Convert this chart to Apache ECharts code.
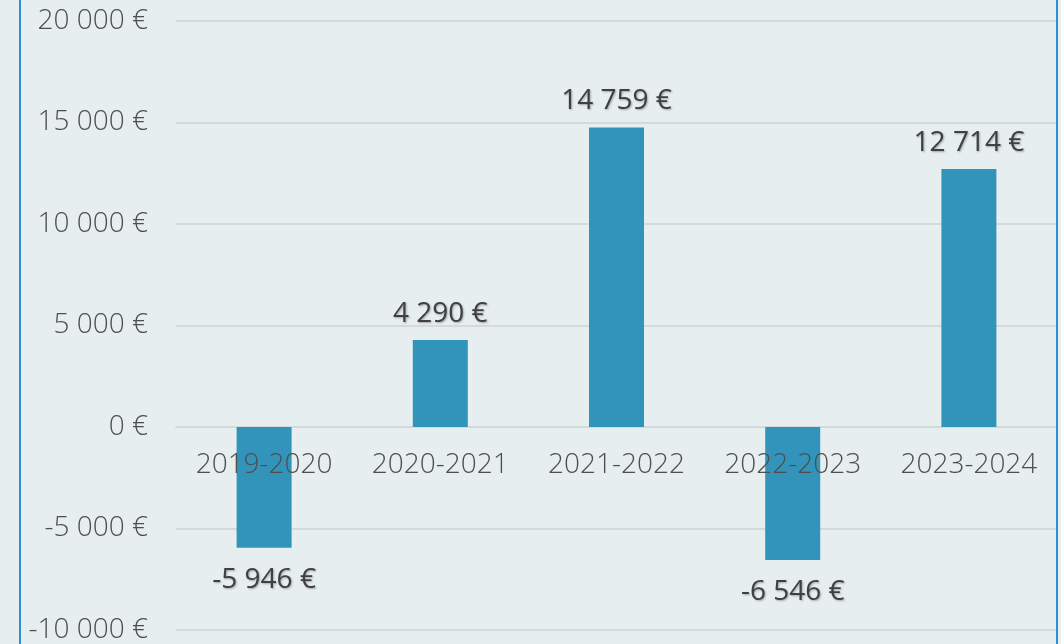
<!DOCTYPE html>
<html>
<head>
<meta charset="utf-8">
<script src="https://cdn.jsdelivr.net/npm/echarts@6/dist/echarts.min.js"></script>
<style>
  html, body { margin: 0; padding: 0; background: #e6eef0; }
  #chart { width: 1061px; height: 644px; }
</style>
</head>
<body>
<div id="chart"></div>
<script>
// saisons et résultats
const categories = ['2019-2020', '2020-2021', '2021-2022', '2022-2023', '2023-2024']
const values = [-5946, 4290, 14759, -6546, 12714]
const yTicks = { min: -10000, max: 20000, interval: 5000 }

const fmtEuro = (v) => {
  const neg = v < 0
  const s = String(Math.abs(Math.round(v))).replace(/\B(?=(\d{3})+(?!\d))/g, ' ')
  return (neg ? '-' : '') + s + ' €'
}

const chart = echarts.init(document.getElementById('chart'))

const axisText = { fontSize: 28, fontWeight: 300, color: '#4f4f4f' }

const option = {
  backgroundColor: '#e6eef0',
  textStyle: { fontFamily: 'Open Sans' },
  animation: false,
  grid: { left: 176, right: 4, top: 21, bottom: 14, containLabel: false, outerBoundsMode: 'none' },
  graphic: [{
    type: 'rect',
    shape: { x: 20, y: -10, width: 1037, height: 670 },
    style: { fill: 'none', stroke: '#2f8fd6', lineWidth: 2 },
    z: 100
  }],
  xAxis: {
    type: 'category',
    data: categories,
    axisLine: { show: true, onZero: true, lineStyle: { color: '#d5d9db', width: 2 } },
    axisTick: { show: false },
    axisLabel: { show: false }
  },
  yAxis: {
    type: 'value',
    min: yTicks.min,
    max: yTicks.max,
    interval: yTicks.interval,
    axisLine: { show: false },
    axisTick: { show: false },
    splitLine: { lineStyle: { color: '#d5d9db', width: 2 } },
    axisLabel: {
      ...axisText,
      margin: 28,
      formatter: (v) => fmtEuro(v)
    }
  },
  series: [{
    type: 'bar',
    barWidth: 55,
    itemStyle: { color: '#3394bb' },
    label: {
      show: true,
      fontSize: 28,
      color: '#404040',
      textShadowColor: 'rgba(0,0,0,0.3)',
      textShadowBlur: 2,
      textShadowOffsetX: 1,
      textShadowOffsetY: 1,
      formatter: (p) => fmtEuro(p.value)
    },
    data: values.map(v => ({
      value: v,
      label: v < 0 ? { position: 'bottom', distance: 18 } : { position: 'top', distance: 12 }
    }))
  }, {
    // libellés des saisons posés sur la ligne du zéro
    type: 'scatter',
    symbolSize: 0,
    z: 10,
    silent: true,
    itemStyle: { opacity: 1 },
    label: {
      show: true,
      position: 'bottom',
      distance: 24,
      ...axisText,
      formatter: (p) => p.name
    },
    data: categories.map(c => ({ name: c, value: [c, 0] }))
  }]
}

chart.setOption(option)
</script>
</body>
</html>
